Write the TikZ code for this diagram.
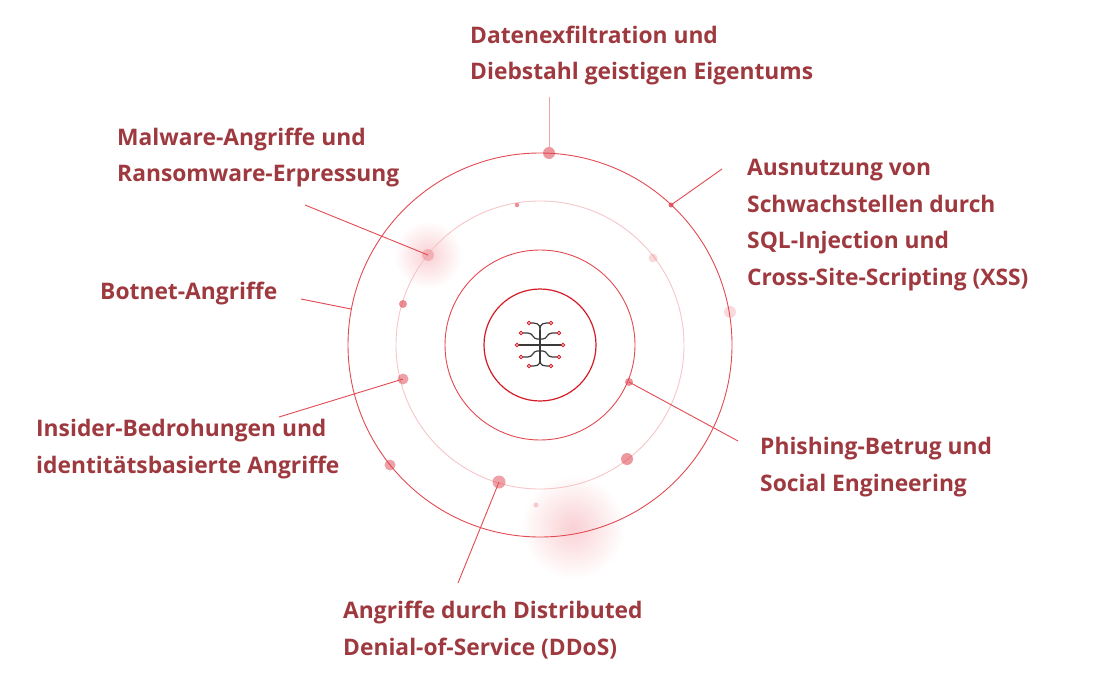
\documentclass[tikz,border=0pt]{standalone}
\usepackage{fontspec}
\setmainfont{Open Sans}
\usetikzlibrary{positioning}
\definecolor{txtred}{HTML}{9E3A3F}
\definecolor{ringred}{HTML}{E24A53}
\definecolor{corered}{HTML}{D41B25}
\definecolor{palering}{HTML}{F6C6C9}
\definecolor{dotred}{HTML}{DD4450}
\definecolor{glowred}{HTML}{FAD0D3}
\definecolor{toplead}{HTML}{F2A3A8}
\definecolor{wire}{HTML}{3A3A3A}
\tikzstyle{lbl}=[anchor=base west,align=left,inner sep=0pt,text=txtred,font=\fontsize{22.8}{36.5}\selectfont\bfseries]
\tikzstyle{orb}=[circle,fill=dotred,inner sep=0pt]
\tikzstyle{pad}=[circle,draw=corered,fill=white,line width=0.9pt,inner sep=0pt,minimum size=3.6pt]
\tikzstyle{lead}=[draw=ringred,line width=0.9pt]
\begin{document}
\begin{tikzpicture}[x=1pt,y=-1pt]
\useasboundingbox (0,0) rectangle (1107,687);
% glows behind the rings
\shade[inner color=glowred,outer color=white] (428,255) circle (34);
\shade[inner color=glowred,outer color=white] (573,527) circle (52);
% rings
\coordinate (C) at (540,345);
\draw[ringred,line width=0.9pt] (C) circle (192);
\draw[palering,line width=0.9pt] (C) circle (144);
\draw[ringred,line width=0.9pt] (C) circle (95);
\draw[corered,line width=1.2pt] (C) circle (56);
% dots on the rings
\node[orb,minimum size=12,opacity=.55] (T) at (549,153) {};
\node[orb,minimum size=5,opacity=.8] (NE) at (671,205) {};
\node[orb,minimum size=4.5,opacity=.6] (S1) at (517,205) {};
\node[orb,minimum size=12,opacity=.25] (MW) at (428,255) {};
\node[orb,minimum size=9,opacity=.2] (R1) at (653,258) {};
\node[orb,minimum size=12,opacity=.2] (R2) at (730,312) {};
\node[orb,minimum size=8,opacity=.6] (L1) at (403,304) {};
\node[orb,minimum size=11,opacity=.5] (IN) at (403,379) {};
\node[orb,minimum size=8,opacity=.6] (PH) at (629,382) {};
\node[orb,minimum size=11,opacity=.5] (L2) at (390,465) {};
\node[orb,minimum size=12,opacity=.55] (B1) at (627,459) {};
\node[orb,minimum size=13,opacity=.5] (DD) at (499,482) {};
\node[orb,minimum size=5,opacity=.25] (B2) at (536,505) {};
% labels (anchored on the last baseline)
\node[lbl] (DAT) at (470,80) {Datenexfiltration und\\Diebstahl geistigen Eigentums};
\node[lbl] (MAL) at (117,182) {Malware-Angriffe und\\Ransomware-Erpressung};
\node[lbl] (SQL) at (747,285) {Ausnutzung von\\Schwachstellen durch\\SQL-Injection und\\Cross-Site-Scripting (XSS)};
\node[lbl] (BOT) at (100,299) {Botnet-Angriffe};
\node[lbl] (INS) at (36,473) {Insider-Bedrohungen und\\identitätsbasierte Angriffe};
\node[lbl] (PHI) at (760,491) {Phishing-Betrug und\\Social Engineering};
\node[lbl] (DOS) at (343,655) {Angriffe durch Distributed\\Denial-of-Service (DDoS)};
% leader lines
\coordinate (tT) at (549,97);
\coordinate (tNE) at (722,169);
\coordinate (tMW) at (305,205);
\coordinate (tB) at (301,299);
\coordinate (eB) at (351,309);
\coordinate (tIN) at (279,417);
\coordinate (tPH) at (738,441);
\coordinate (tDD) at (458,583);
\path[lead]
(tT) edge[draw=toplead] (T)
(tNE) edge (NE.center)
(tMW) edge (MW.center)
(tB) edge (eB)
(tIN) edge (IN.center)
(tPH) edge (PH.center)
(tDD) edge (DD.center);
% circuit icon in the core
\draw[wire,line width=1.2pt] (540,330) -- (540,360) (517,345) -- (563,345);
\foreach \s in {1,-1}{
\draw[wire,line width=1.2pt] ({540-\s*11},323) .. controls ({540-\s*3},323) and (540,323) .. (540,330);
\draw[wire,line width=1.2pt] ({540-\s*11},366) .. controls ({540-\s*3},366) and (540,366) .. (540,360);
\draw[wire,line width=1.2pt] ({540-\s*19},333) -- ({540-\s*12},333) .. controls ({540-\s*7},333) and ({540-\s*7},339) .. ({540-\s*3},339) -- (540,339);
\draw[wire,line width=1.2pt] ({540-\s*19},357) -- ({540-\s*12},357) .. controls ({540-\s*7},357) and ({540-\s*7},351) .. ({540-\s*3},351) -- (540,351);
}
\foreach \p in {(529,323),(551,323),(521,333),(559,333),(517,345),(563,345),(521,357),(559,357),(529,366),(551,366)}
\node[pad] at \p {};
\end{tikzpicture}
\end{document}
